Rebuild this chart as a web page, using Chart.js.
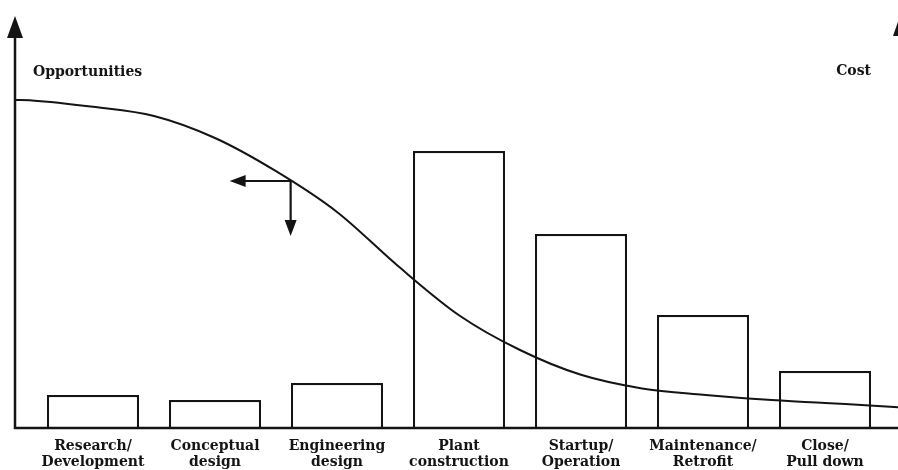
<!DOCTYPE html>
<html>
<head>
<meta charset="utf-8">
<script src="https://cdn.jsdelivr.net/npm/chart.js@4/dist/chart.umd.min.js"></script>
<style>
  html, body { margin: 0; padding: 0; background: #ffffff; }
  #wrap { width: 898px; height: 470px; position: relative; }
</style>
</head>
<body>
<div id="wrap"><canvas id="c" width="898" height="470"></canvas></div>
<script>
// ---- data ----
const categories = [
  ["Research/", "Development"],
  ["Conceptual", "design"],
  ["Engineering", "design"],
  ["Plant", "construction"],
  ["Startup/", "Operation"],
  ["Maintenance/", "Retrofit"],
  ["Close/", "Pull down"]
];
const costValues = [8.25, 7, 11.25, 69.25, 48.5, 28.25, 14.25];
// opportunity curve: x in phase units (0..7 spans the phases), y same 0..100 scale
const curveX = [-0.14, 0, 0.5, 1.0, 1.5, 2.0, 2.5, 3.0, 3.5, 4.0, 4.5, 5.0, 5.5, 6.0, 6.5, 7.0, 7.1];
const curveY = [82, 81.9, 80.3, 78, 72.5, 64.2, 54, 40.5, 28.2, 19.5, 13.3, 9.9, 8.3, 7.1, 6.25, 5.4, 5.2];
const leftAxisLabel = "Opportunities";
const rightAxisLabel = "Cost";
// annotation arrows start on the curve at this point
const arrowOrigin = { x: 2.12, y: 62 };
const arrowLeftTo = 1.62;   // x value
const arrowDownTo = 48;     // y value

const INK = "#141414";
const FONT = "'DejaVu Serif', serif";

const decorPlugin = {
  id: "decor",
  afterDatasetsDraw(chart) {
    const ctx = chart.ctx;
    const ca = chart.chartArea;
    const y = chart.scales.y;
    const x2 = chart.scales.x2;
    const base = y.getPixelForValue(0);
    const leftX = ca.left - 17;
    const rightX = ca.right + 15;
    ctx.save();
    ctx.strokeStyle = INK;
    ctx.fillStyle = INK;
    ctx.lineCap = "butt";
    // baseline
    ctx.lineWidth = 2.5;
    ctx.beginPath();
    ctx.moveTo(leftX - 1, base);
    ctx.lineTo(chart.width, base);
    ctx.stroke();
    // left axis
    ctx.beginPath();
    ctx.moveTo(leftX, base + 1);
    ctx.lineTo(leftX, 36);
    ctx.stroke();
    ctx.beginPath();
    ctx.moveTo(leftX, 16);
    ctx.lineTo(leftX - 8, 38);
    ctx.lineTo(leftX + 8, 38);
    ctx.closePath();
    ctx.fill();
    // right axis arrowhead (partially off canvas)
    ctx.beginPath();
    ctx.moveTo(rightX, 13);
    ctx.lineTo(rightX - 8, 36);
    ctx.lineTo(rightX + 8, 36);
    ctx.closePath();
    ctx.fill();
    ctx.beginPath();
    ctx.moveTo(rightX, 34);
    ctx.lineTo(rightX, base);
    ctx.stroke();

    // annotation arrows
    const ox = x2.getPixelForValue(arrowOrigin.x);
    const oy = y.getPixelForValue(arrowOrigin.y);
    const lx = x2.getPixelForValue(arrowLeftTo);
    const dy = y.getPixelForValue(arrowDownTo);
    ctx.lineWidth = 2.2;
    ctx.beginPath();
    ctx.moveTo(ox + 1, oy + 1);
    ctx.lineTo(lx + 12, oy + 1);
    ctx.stroke();
    ctx.beginPath();
    ctx.moveTo(lx, oy + 1);
    ctx.lineTo(lx + 16, oy - 5);
    ctx.lineTo(lx + 16, oy + 7);
    ctx.closePath();
    ctx.fill();
    ctx.beginPath();
    ctx.moveTo(ox, oy + 1);
    ctx.lineTo(ox, dy - 12);
    ctx.stroke();
    ctx.beginPath();
    ctx.moveTo(ox, dy);
    ctx.lineTo(ox - 6, dy - 16);
    ctx.lineTo(ox + 6, dy - 16);
    ctx.closePath();
    ctx.fill();

    // axis labels
    ctx.font = "bold 14px " + FONT;
    ctx.textBaseline = "alphabetic";
    ctx.textAlign = "left";
    ctx.fillText(leftAxisLabel, ca.left + 1, 76);
    ctx.textAlign = "right";
    ctx.fillText(rightAxisLabel, ca.right - 15, 75);
    ctx.restore();
  }
};

new Chart(document.getElementById("c"), {
  type: "bar",
  data: {
    labels: categories,
    datasets: [
      {
        type: "line",
        label: "Opportunities",
        data: curveX.map((v, i) => ({ x: v, y: curveY[i] })),
        xAxisID: "x2",
        yAxisID: "y",
        borderColor: INK,
        borderWidth: 2,
        pointRadius: 0,
        fill: false,
        cubicInterpolationMode: "monotone",
        clip: false,
        order: 0
      },
      {
        type: "bar",
        label: "Cost",
        data: costValues,
        xAxisID: "x",
        yAxisID: "y",
        backgroundColor: "#ffffff",
        borderColor: INK,
        borderWidth: 2.2,
        borderSkipped: "bottom",
        grouped: false,
        barPercentage: 0.755,
        categoryPercentage: 1,
        order: 1
      }
    ]
  },
  options: {
    responsive: false,
    animation: false,
    devicePixelRatio: 1,
    layout: { padding: { left: 32, right: 12, top: 28, bottom: 0 } },
    plugins: { legend: { display: false }, tooltip: { enabled: false } },
    scales: {
      x: {
        type: "category",
        offset: true,
        grid: { display: false, drawTicks: false },
        border: { display: false },
        ticks: {
          color: INK,
          padding: 10,
          maxRotation: 0,
          autoSkip: false,
          font: { family: FONT, size: 14, weight: "bold", lineHeight: 1.15 }
        },
        afterFit(s) { s.height = 42; }
      },
      x2: {
        type: "linear",
        bounds: "data",
        offset: false,
        display: false,
        afterDataLimits(s) { s.min = 0; s.max = categories.length; }
      },
      y: {
        min: 0,
        max: 100,
        display: false
      }
    }
  },
  plugins: [decorPlugin]
});
</script>
</body>
</html>
